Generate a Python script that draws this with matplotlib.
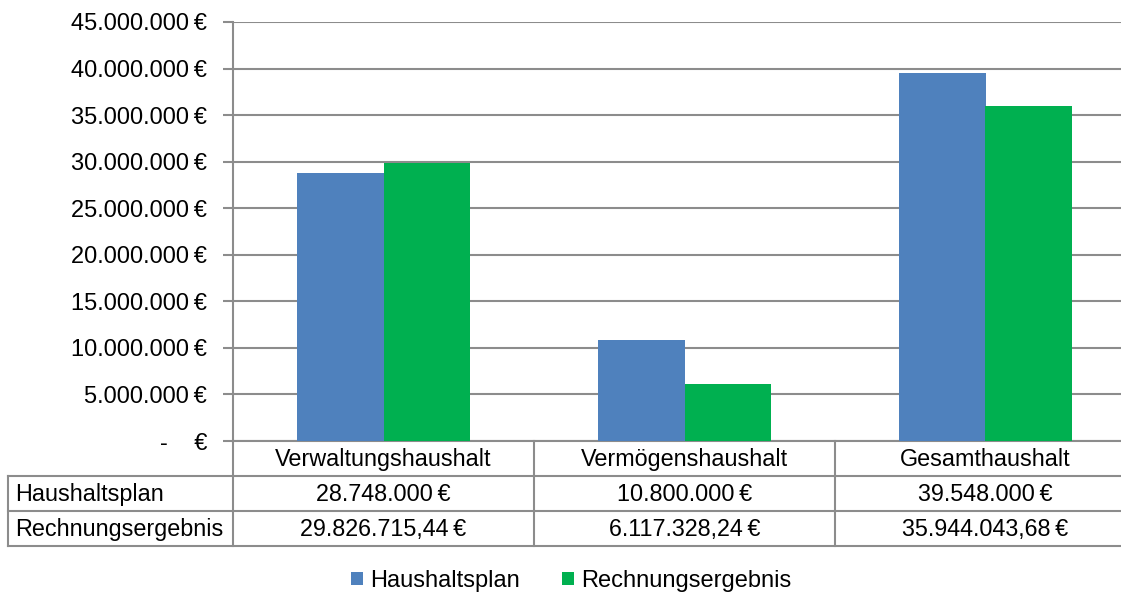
import matplotlib
matplotlib.use("Agg")
import matplotlib.pyplot as plt
from matplotlib.patches import Patch
from matplotlib.lines import Line2D
from matplotlib.ticker import FuncFormatter

plt.rcParams['font.family'] = ['Liberation Sans', 'DejaVu Sans']

categories = ["Verwaltungshaushalt", "Vermögenshaushalt", "Gesamthaushalt"]
series_names = ["Haushaltsplan", "Rechnungsergebnis"]
haushaltsplan = [28748000.00, 10800000.00, 39548000.00]
rechnungsergebnis = [29826715.44, 6117328.24, 35944043.68]
y_ticks = [0, 5000000, 10000000, 15000000, 20000000, 25000000, 30000000, 35000000, 40000000, 45000000]

colors = ["#4F81BD", "#00B050"]
grid_c = "#8C8C8C"

W, H = 1121, 593
fig = plt.figure(figsize=(W / 100, H / 100), dpi=100)


def fx(px):
    return px / W


def fy(py):
    return 1 - py / H


def de_format(v, decimals):
    s = f"{v:,.{decimals}f}"
    s = s.replace(",", "X").replace(".", ",").replace("X", ".")
    return s


def money(v):
    if abs(v - round(v)) < 1e-9:
        return de_format(v, 0) + "\u2009€"
    return de_format(v, 2) + "\u2009€"


ax_l, ax_r, ax_t, ax_b = 233, 1136, 22, 441
ax = fig.add_axes([fx(ax_l), fy(ax_b), fx(ax_r - ax_l), (ax_b - ax_t) / H])

x = list(range(len(categories)))
bw = 0.286
ax.bar([i - bw / 2 for i in x], haushaltsplan, width=bw, color=colors[0], zorder=3)
ax.bar([i + bw / 2 for i in x], rechnungsergebnis, width=bw, color=colors[1], zorder=3)

ax.set_xlim(-0.5, len(categories) - 0.5)
ax.set_ylim(0, 45000000)
ax.set_yticks(y_ticks)


def yfmt(v, pos):
    if v == 0:
        return "-    €"
    return money(v)


ax.yaxis.set_major_formatter(FuncFormatter(yfmt))
ax.set_xticks([])
ax.grid(axis='y', color=grid_c, linewidth=1.5, zorder=0)
for s in ["top", "right"]:
    ax.spines[s].set_visible(False)
ax.spines["left"].set_color(grid_c)
ax.spines["left"].set_linewidth(1.5)
ax.spines["bottom"].set_color(grid_c)
ax.spines["bottom"].set_linewidth(1.5)
ax.tick_params(axis='y', length=7, width=1.5, color=grid_c, labelsize=17, pad=11.5)

# ---- data table ----
col_edges = [233, 534, 835, 1136]
row_edges = [441, 476, 511, 546]
left_x = 8
lc = grid_c
lw = 1.5


def hline(y, x0, x1):
    fig.add_artist(Line2D([fx(x0), fx(x1)], [fy(y), fy(y)], color=lc, lw=lw))


def vline(xp, y0, y1):
    fig.add_artist(Line2D([fx(xp), fx(xp)], [fy(y0), fy(y1)], color=lc, lw=lw))


hline(476, left_x, 1121)
hline(511, left_x, 1121)
hline(546, left_x, 1121)
vline(left_x, 476, 546)
for xe in col_edges[:-1]:
    vline(xe, 441, 546)

fs = 16.8
for i, cat in enumerate(categories):
    cx = (col_edges[i] + col_edges[i + 1]) / 2
    fig.text(fx(cx), fy((row_edges[0] + row_edges[1]) / 2 + 1), cat, ha='center', va='center', fontsize=fs)
    fig.text(fx(cx), fy((row_edges[1] + row_edges[2]) / 2 + 1), money(haushaltsplan[i]), ha='center', va='center', fontsize=fs)
    fig.text(fx(cx), fy((row_edges[2] + row_edges[3]) / 2 + 1), money(rechnungsergebnis[i]), ha='center', va='center', fontsize=fs)

for r, name in enumerate(series_names):
    fig.text(fx(left_x + 7), fy((row_edges[r + 1] + row_edges[r + 2]) / 2 + 1), name, ha='left', va='center', fontsize=fs)

handles = [Patch(facecolor=colors[0]), Patch(facecolor=colors[1])]
fig.legend(handles, series_names, loc='center', bbox_to_anchor=(fx(571), fy(581)), ncol=2, frameon=False,
           fontsize=17, handlelength=0.5, handleheight=0.5, handletextpad=0.3, columnspacing=1.8,
           borderpad=0, borderaxespad=0)

fig.savefig("out.png", dpi=100)
